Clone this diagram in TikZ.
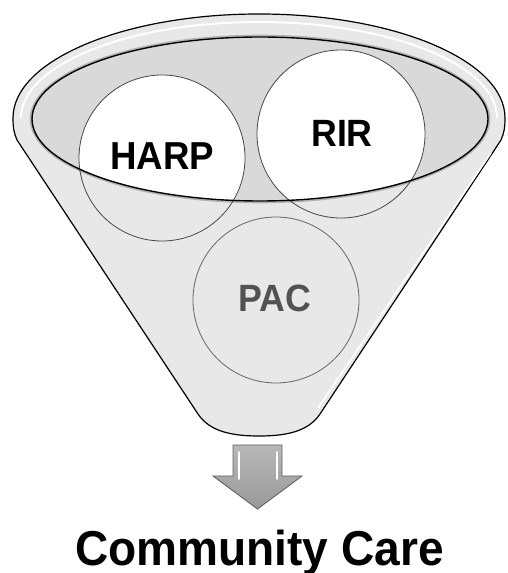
\documentclass[tikz,border=0pt]{standalone}
\usepackage{fontspec}
\usepackage{graphicx}
\usetikzlibrary{shapes.geometric}
\setmainfont{Liberation Sans}
\begin{document}
\begin{tikzpicture}[x=1pt,y=1pt,
  circ/.style={draw=black!72, line width=0.8pt},
  lbl/.style={inner sep=0pt, font=\bfseries}]
\useasboundingbox (0,0) rectangle (507,573);
% silhouette of funnel
\path[fill=black!9, draw=black, line width=1.2pt]
  (13,455) arc[start angle=180, end angle=0, x radius=246, y radius=104]
  .. controls (505,445) and (504,440) .. (501,433)
  -- (320,159) .. controls (308,141) and (285,137) .. (259,137)
  .. controls (233,137) and (210,141) .. (198,159)
  -- (17,433) .. controls (14,440) and (13,445) .. (13,455) -- cycle;
% rim highlight
\draw[white, line width=2pt] (21,455) arc[start angle=180, end angle=0, x radius=238, y radius=96];
\draw[white, line width=1.5pt] (491,420) -- (318,165);
% inner ellipse fill
\fill[black!15] (260,454) ellipse[x radius=228, y radius=82];
\draw[black!30, line width=1.6pt] (260,454) ellipse[x radius=229.5, y radius=83.5];
% circles
\begin{scope}
  \clip (260,454) ellipse[x radius=228, y radius=82];
  \fill[white] (162,415) circle[radius=83];
  \fill[white] (341,439) circle[radius=84];
\end{scope}
\node[circle, minimum size=166pt, circ] (harpc) at (162,415) {};
\node[circle, minimum size=168pt, circ] (rirc) at (341,439) {};
\node[circle, minimum size=166pt, circ, draw=black!60] (pacc) at (276,273) {};
% inner ellipse outline
\node[ellipse, draw=black, line width=1.4pt, minimum width=456pt, minimum height=164pt, inner sep=0pt] (mouth) at (260,454) {};
% labels
\node[lbl, font=\bfseries\fontsize{39}{39}\selectfont] (harp) at (162,417) {\scalebox{0.94}[1]{HARP}};
\node[lbl, font=\bfseries\fontsize{38}{38}\selectfont] (rir) at (342,440) {\scalebox{0.94}[1]{RIR}};
\node[lbl, text=black!68, font=\bfseries\fontsize{38}{38}\selectfont] (pac) at (275,275) {\scalebox{0.94}[1]{PAC}};
% arrow
\path[draw=black!62, line width=0.9pt, top color=black!28, bottom color=black!40]
  (233,128) -- (282,128) -- (282,97) -- (302,97) -- (257.5,64) -- (213,97) -- (233,97) -- cycle;
\draw[white, line width=1.6pt, line cap=round] (239,121) -- (239,94);
\draw[white, line width=1.6pt, line cap=round] (277,121) -- (277,94);
% caption
\node[lbl, anchor=base, font=\bfseries\fontsize{49}{49}\selectfont] (cc) at (259.5,7) {\scalebox{0.94}[1]{Community Care}};
\end{tikzpicture}
\end{document}
